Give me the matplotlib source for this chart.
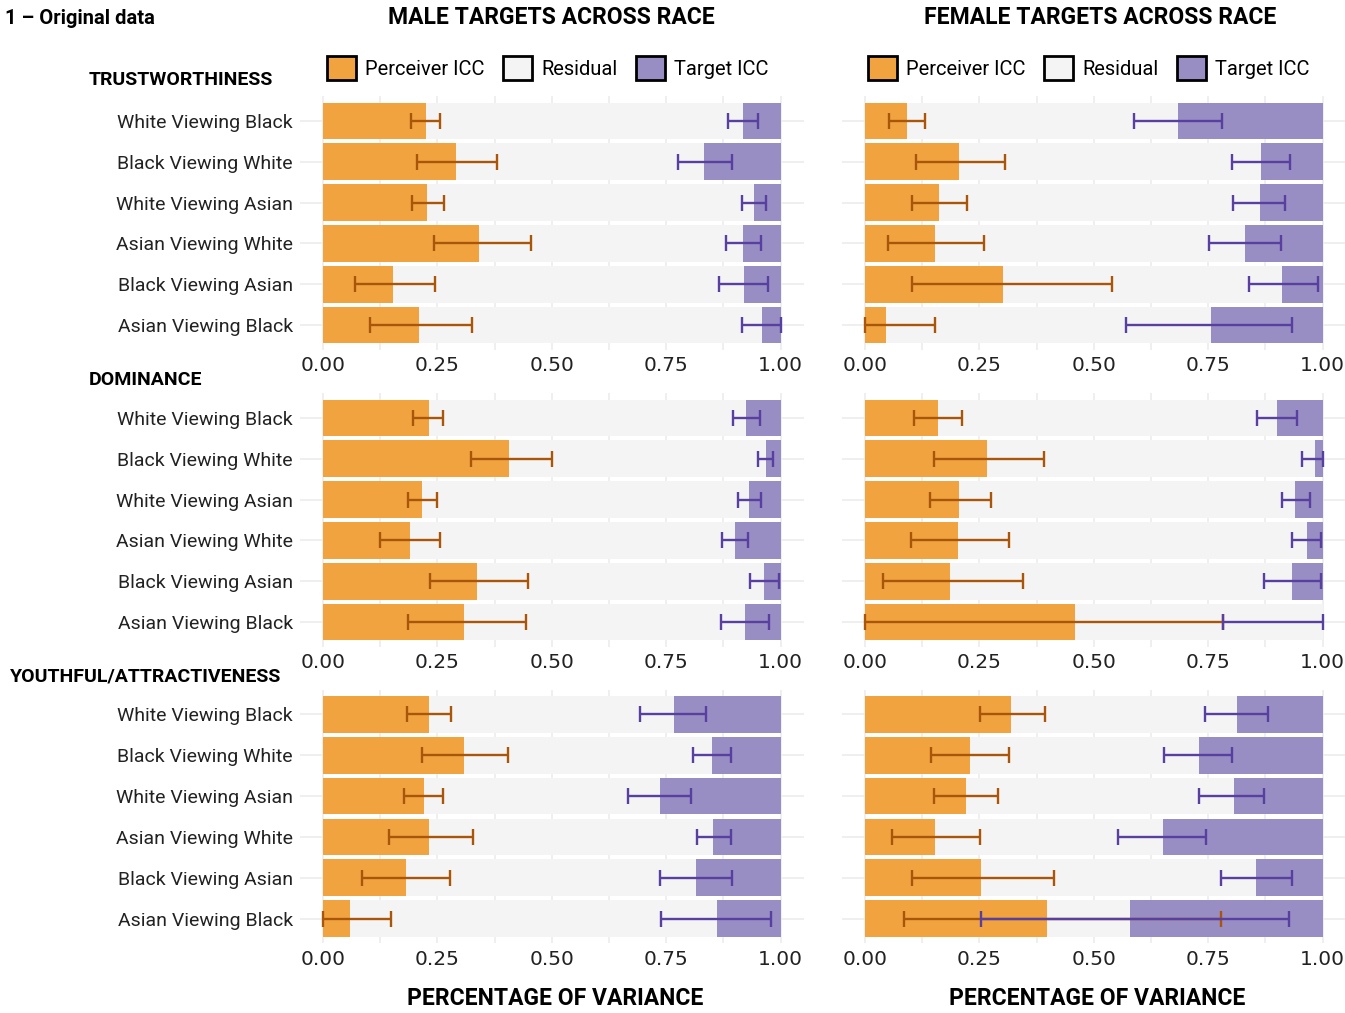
import matplotlib
matplotlib.use("Agg")
import matplotlib.pyplot as plt
import numpy as np
from matplotlib.patches import Patch

plt.rcParams["font.family"] = ["Roboto", "DejaVu Sans"]

categories = ["White Viewing Black", "Black Viewing White", "White Viewing Asian",
              "Asian Viewing White", "Black Viewing Asian", "Asian Viewing Black"]
traits = ["TRUSTWORTHINESS", "DOMINANCE", "YOUTHFUL/ATTRACTIVENESS"]
targets = ["MALE TARGETS ACROSS RACE", "FEMALE TARGETS ACROSS RACE"]

# perceiver ICC with CI, target ICC with CI (per trait, per target sex)
male_trust_p = [0.225, 0.291, 0.227, 0.342, 0.153, 0.211]
male_trust_p_lo = [0.192, 0.206, 0.194, 0.242, 0.071, 0.103]
male_trust_p_hi = [0.256, 0.381, 0.264, 0.454, 0.244, 0.326]
male_trust_t = [0.083, 0.167, 0.059, 0.083, 0.079, 0.041]
male_trust_t_lo = [0.049, 0.106, 0.033, 0.042, 0.028, 0.000]
male_trust_t_hi = [0.115, 0.225, 0.084, 0.120, 0.134, 0.084]

female_trust_p = [0.091, 0.205, 0.162, 0.154, 0.302, 0.047]
female_trust_p_lo = [0.053, 0.111, 0.104, 0.051, 0.102, 0.000]
female_trust_p_hi = [0.131, 0.306, 0.224, 0.260, 0.540, 0.154]
female_trust_t = [0.315, 0.134, 0.137, 0.169, 0.089, 0.243]
female_trust_t_lo = [0.220, 0.071, 0.083, 0.092, 0.009, 0.066]
female_trust_t_hi = [0.412, 0.197, 0.195, 0.249, 0.160, 0.430]

male_dom_p = [0.231, 0.407, 0.217, 0.190, 0.336, 0.309]
male_dom_p_lo = [0.197, 0.324, 0.187, 0.125, 0.234, 0.187]
male_dom_p_hi = [0.262, 0.501, 0.250, 0.255, 0.448, 0.443]
male_dom_t = [0.075, 0.032, 0.069, 0.100, 0.036, 0.077]
male_dom_t_lo = [0.045, 0.017, 0.042, 0.071, 0.004, 0.026]
male_dom_t_hi = [0.104, 0.049, 0.093, 0.127, 0.067, 0.130]

female_dom_p = [0.160, 0.266, 0.206, 0.203, 0.186, 0.460]
female_dom_p_lo = [0.108, 0.151, 0.142, 0.100, 0.039, 0.000]
female_dom_p_hi = [0.212, 0.392, 0.275, 0.315, 0.346, 0.782]
female_dom_t = [0.100, 0.017, 0.060, 0.034, 0.066, 0.000]
female_dom_t_lo = [0.056, 0.000, 0.028, 0.004, 0.004, 0.000]
female_dom_t_hi = [0.143, 0.044, 0.089, 0.066, 0.127, 0.218]

male_youth_p = [0.232, 0.308, 0.220, 0.232, 0.181, 0.060]
male_youth_p_lo = [0.184, 0.217, 0.177, 0.145, 0.086, 0.000]
male_youth_p_hi = [0.279, 0.405, 0.263, 0.327, 0.278, 0.148]
male_youth_t = [0.232, 0.149, 0.263, 0.147, 0.184, 0.138]
male_youth_t_lo = [0.164, 0.109, 0.195, 0.109, 0.106, 0.022]
male_youth_t_hi = [0.308, 0.192, 0.334, 0.183, 0.263, 0.261]

female_youth_p = [0.320, 0.229, 0.220, 0.154, 0.253, 0.397]
female_youth_p_lo = [0.251, 0.145, 0.151, 0.059, 0.103, 0.085]
female_youth_p_hi = [0.394, 0.314, 0.291, 0.251, 0.414, 0.779]
female_youth_t = [0.186, 0.271, 0.194, 0.349, 0.146, 0.420]
female_youth_t_lo = [0.120, 0.197, 0.127, 0.255, 0.066, 0.074]
female_youth_t_hi = [0.257, 0.346, 0.269, 0.446, 0.223, 0.746]

panels = [
    [(male_trust_p, male_trust_p_lo, male_trust_p_hi, male_trust_t, male_trust_t_lo, male_trust_t_hi),
     (female_trust_p, female_trust_p_lo, female_trust_p_hi, female_trust_t, female_trust_t_lo, female_trust_t_hi)],
    [(male_dom_p, male_dom_p_lo, male_dom_p_hi, male_dom_t, male_dom_t_lo, male_dom_t_hi),
     (female_dom_p, female_dom_p_lo, female_dom_p_hi, female_dom_t, female_dom_t_lo, female_dom_t_hi)],
    [(male_youth_p, male_youth_p_lo, male_youth_p_hi, male_youth_t, male_youth_t_lo, male_youth_t_hi),
     (female_youth_p, female_youth_p_lo, female_youth_p_hi, female_youth_t, female_youth_t_lo, female_youth_t_hi)],
]

ORANGE = "#f1a340"
RESID = "#f4f4f4"
PURPLE = "#998ec3"
ORANGE_D = "#a9560a"
PURPLE_D = "#5840a0"
GRID = "#ebebeb"

W, H = 1345, 1013
fig = plt.figure(figsize=(W / 100, H / 100), dpi=100)

col_left = [300 / W, 842 / W]
col_width = 503.5 / W
row_top = [96.5, 393.5, 690]
row_h = 253

y = np.arange(len(categories))

for r in range(3):
    for c in range(2):
        p, p_lo, p_hi, t, t_lo, t_hi = [np.array(a) for a in panels[r][c]]
        ax = fig.add_axes([col_left[c], 1 - (row_top[r] + row_h) / H, col_width, row_h / H])
        resid = 1 - p - t
        ax.barh(y, p, height=0.9, color=ORANGE, zorder=2)
        ax.barh(y, resid, left=p, height=0.9, color=RESID, zorder=2)
        ax.barh(y, t, left=p + resid, height=0.9, color=PURPLE, zorder=2)
        ax.errorbar(p, y, xerr=[p - p_lo, p_hi - p], fmt="none", ecolor=ORANGE_D,
                    elinewidth=1.7, capsize=5.5, capthick=1.7, zorder=3)
        tpos = 1 - t
        ax.errorbar(tpos, y, xerr=[t_hi - t, t - t_lo], fmt="none", ecolor=PURPLE_D,
                    elinewidth=1.7, capsize=5.5, capthick=1.7, zorder=4)

        ax.set_xlim(-0.05, 1.05)
        ax.set_ylim(len(categories) - 0.4, -0.6)
        ax.set_xticks([0, 0.25, 0.5, 0.75, 1.0])
        ax.set_xticklabels(["0.00", "0.25", "0.50", "0.75", "1.00"],
                           fontsize=14.5, family="DejaVu Sans", color="#222222")
        ax.set_xticks([0.125, 0.375, 0.625, 0.875], minor=True)
        ax.set_yticks(y)
        if c == 0:
            ax.set_yticklabels(categories, fontsize=14, color="#222222")
        else:
            ax.set_yticklabels([])
        ax.tick_params(axis="both", which="both", length=0)
        ax.tick_params(axis="y", pad=5)
        ax.tick_params(axis="x", pad=5)
        ax.grid(True, which="both", color=GRID, linewidth=1.1, zorder=0)
        ax.set_axisbelow(True)
        for s in ax.spines.values():
            s.set_visible(False)

        if r == 0:
            handles = [Patch(facecolor=ORANGE, edgecolor="black", linewidth=2, label="Perceiver ICC"),
                       Patch(facecolor=RESID, edgecolor="black", linewidth=2, label="Residual"),
                       Patch(facecolor=PURPLE, edgecolor="black", linewidth=2, label="Target ICC")]
            left_px = [327, 868][c]
            ax.legend(handles=handles, ncol=3, frameon=False, fontsize=14.5,
                      loc="center left", bbox_to_anchor=(left_px / W, 1 - 68 / H),
                      bbox_transform=fig.transFigure, borderpad=0, borderaxespad=0,
                      handlelength=1.45, handleheight=1.45, handletextpad=0.45,
                      columnspacing=0.9)

# column titles and axis titles
fig.text(551 / W, 1 - 18 / H, targets[0], ha="center", va="center",
         fontsize=16.5, fontweight="bold")
fig.text(1100 / W, 1 - 18 / H, targets[1], ha="center", va="center",
         fontsize=16.5, fontweight="bold")
fig.text(555 / W, 1 - 998 / H, "PERCENTAGE OF VARIANCE", ha="center", va="center",
         fontsize=16.5, fontweight="bold")
fig.text(1097 / W, 1 - 998 / H, "PERCENTAGE OF VARIANCE", ha="center", va="center",
         fontsize=16.5, fontweight="bold")

# row (trait) titles
fig.text(89 / W, 1 - 80 / H, traits[0], ha="left", va="center", fontsize=14, fontweight="bold")
fig.text(89 / W, 1 - 380 / H, traits[1], ha="left", va="center", fontsize=14, fontweight="bold")
fig.text(10 / W, 1 - 676 / H, traits[2], ha="left", va="center", fontsize=14, fontweight="bold")

fig.text(5 / W, 1 - 19 / H, "1 \u2013 Original data", ha="left", va="center",
         fontsize=14.5, fontweight="bold")

fig.savefig("out.png", dpi=100, facecolor="white")
